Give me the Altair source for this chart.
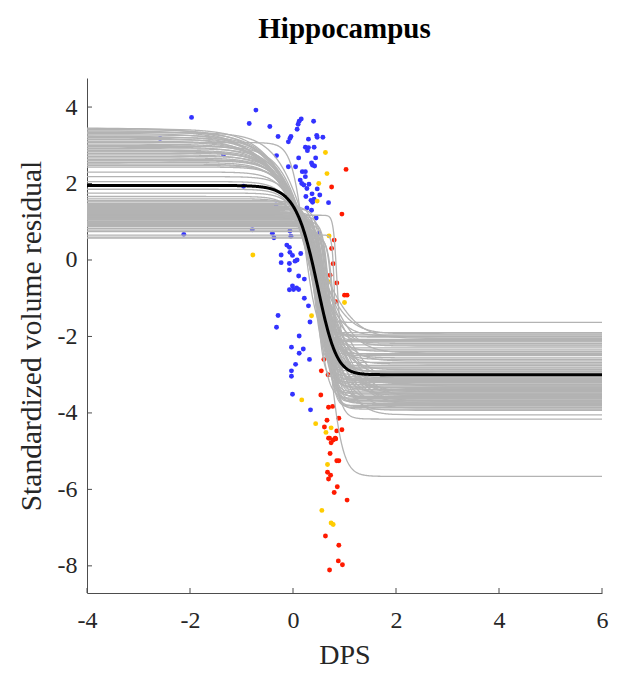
import numpy as np
import pandas as pd
import altair as alt

# Bootstrap fits, generalised logistic parameterised by its half-way point:
# y = right + (left - right) * (1 + (2**shape - 1) * exp(k * (x - mid))) ** (-1 / shape)
left_level = [
    3.45, 3.41, 3.38, 3.35, 3.31, 3.27, 3.23, 3.19, 3.15, 3.11,
    3.07, 3.03, 2.99, 2.95, 2.91, 2.87, 2.83, 2.79, 2.75, 2.71,
    2.67, 2.63, 2.59, 2.55, 2.51, 2.47, 2.43, 2.30, 2.18, 2.05,
    1.85, 1.75, 1.66, 1.60,
    3.43, 3.33, 3.21, 3.09, 2.97, 2.85, 2.61,
    1.55, 1.48, 1.42, 1.38, 1.35, 1.32, 1.29, 1.26, 1.23, 1.21,
    1.19, 1.17, 1.15, 1.13, 1.11, 1.09, 1.07, 1.05, 1.02, 0.99,
    0.96, 0.93, 0.90, 0.87, 0.82, 0.78, 0.74, 0.65, 0.60, 0.57,
    1.52, 1.45, 1.40, 1.34, 1.27, 1.24, 1.20, 1.14, 1.10, 1.06,
    1.00, 0.97, 0.94, 0.91, 0.88,
]
right_level = [
    -3.30, -2.05, -3.60, -2.43, -3.81, -1.93, -3.15, -3.69, -2.64, -3.42,
    -2.11, -3.87, -2.87, -3.24, -1.99, -3.54, -4.05, -2.72, -3.36, -2.18,
    -3.72, -3.09, -2.39, -3.48, -3.93, -2.92, -3.27, -2.60, -3.63, -2.02,
    -3.18, -3.78, -2.47, -3.39,
    -3.52, -2.25, -3.02, -3.74, -2.56, -3.44, -2.95,
    -3.06, -1.96, -3.51, -2.83, -3.66, -2.14, -3.21, -3.84, -2.68, -3.33,
    -5.66, -2.08, -3.57, -2.35, -3.75, -3.12, -4.16, -2.22, -3.45, -1.63,
    -3.90, -2.90, -3.30, -1.90, -3.60, -2.80, -3.15, -3.80, -2.50, -3.40,
    -3.62, -2.30, -3.20, -3.86, -2.12, -3.48, -2.76, -3.71, -3.00, -2.45,
    -3.56, -3.26, -2.00, -3.68, -3.10,
]
midpoint = [
    0.42, 0.30, 0.45, 0.36, 0.48, 0.28, 0.40, 0.44, 0.33, 0.41,
    0.22, 0.46, 0.35, 0.40, 0.30, 0.43, 0.50, 0.34, 0.41, 0.29,
    0.45, 0.37, 0.31, 0.42, 0.50, 0.36, 0.39, 0.34, 0.44, 0.30,
    0.40, 0.46, 0.36, 0.42,
    0.40, 0.32, 0.38, 0.47, 0.33, 0.44, 0.37,
    0.42, 0.45, 0.50, 0.40, 0.55, 0.48, 0.52, 0.58, 0.44, 0.60,
    0.69, 0.85, 0.62, 0.50, 0.66, 0.46, 0.70, 0.55, 0.64, 0.48,
    0.68, 0.58, 0.62, 0.52, 0.74, 0.66, 0.70, 0.82, 0.76, 0.80,
    0.47, 0.43, 0.56, 0.63, 0.41, 0.59, 0.51, 0.67, 0.54, 0.45,
    0.72, 0.61, 0.49, 0.71, 0.57,
]
steepness = [
    1.7, 2.0, 1.8, 2.2, 1.9, 2.4, 2.1, 2.0, 2.6, 2.3,
    8.0, 2.4, 2.8, 2.5, 3.0, 2.7, 2.6, 3.1, 2.8, 3.4,
    3.0, 3.3, 3.6, 3.2, 3.1, 3.8, 4.0, 4.0, 4.4, 4.6,
    5.0, 5.2, 5.5, 5.8,
    2.2, 2.9, 2.5, 2.2, 3.4, 2.6, 3.5,
    9, 10, 9, 11, 10, 12, 11, 10, 13, 12,
    7.7, 30, 12, 14, 11, 15, 10, 16, 13, 14,
    12, 15, 14, 16, 13, 18, 16, 40, 20, 18,
    10, 11, 12, 13, 9, 14, 12, 15, 11, 13,
    16, 12, 10, 17, 14,
]
shape = [
    0.45, 0.50, 0.45, 0.50, 0.45, 0.55, 0.50, 0.45, 0.55, 0.50,
    1.00, 0.50, 0.55, 0.50, 0.60, 0.50, 0.45, 0.60, 0.55, 0.65,
    0.55, 0.60, 0.65, 0.55, 0.50, 0.65, 0.70, 0.70, 0.70, 0.75,
    0.80, 0.80, 0.85, 0.85,
    0.50, 0.60, 0.55, 0.50, 0.65, 0.55, 0.65,
    1, 1, 1, 1, 1, 1, 1, 1, 1, 1,
    1, 1, 1, 1, 1, 1, 1, 1, 1, 1,
    1, 1, 1, 1, 1, 1, 1, 1, 1, 1,
    1, 1, 1, 1, 1, 1, 1, 1, 1, 1,
    1, 1, 1, 1, 1,
]

# Group-level (mean) fit
mean_left, mean_right, mean_mid, mean_k, mean_shape = 1.95, -3.0, 0.45, 4.4, 0.6

# Individual subjects
blue_x = [
    -1.97, -0.72, -0.85, -0.45, -0.29, 0.16, 0.12, 0.10, 0.08, 0.40,
    -0.04, -0.06, -0.09, 0.30, 0.46, 0.47, 0.58, 0.24, 0.30, 0.28,
    0.41, 0.44, -0.32, 0.11, 0.36, 0.38, 0.42, -0.09, 0.05, 0.18,
    0.24, 0.24, 0.14, 0.17, 0.21, 0.31, 0.27, 0.47, 0.37, 0.52,
    0.25, 0.35, 0.41, 0.38, 0.69, -0.96, -0.33, -0.79, -0.40, -0.37,
    -0.06, -0.04, -0.12, -0.07, -0.23, -0.06, -0.01, 0.15, -0.23, -0.07,
    0.04, 0.08, -0.07, 0.11, 0.22, -0.01, -0.07, 0.01, 0.07, 0.11,
    -0.29, -0.32, 0.12, -0.03, 0.20, 0.12, 0.05, -0.03, -0.03, -0.01,
    0.34, 0.33, 0.32, -2.12, -2.58, -1.35, 0.27, 0.36, 0.20, 0.45,
    0.50, 0.30, 0.22,
]
blue_y = [
    3.73, 3.92, 3.57, 3.49, 3.23, 3.69, 3.63, 3.55, 3.42, 3.63,
    3.23, 3.18, 3.09, 3.16, 3.26, 3.21, 3.21, 2.95, 2.94, 2.86,
    2.95, 2.67, 2.73, 2.67, 2.54, 2.48, 2.46, 2.44, 2.44, 2.31,
    2.31, 2.18, 2.09, 2.00, 1.96, 1.98, 1.87, 1.86, 1.73, 1.70,
    1.66, 1.56, 1.59, 1.51, 1.50, 1.93, 1.44, 0.79, 0.70, 0.58,
    0.76, 0.62, 0.39, 0.33, 0.13, 0.20, 0.12, 0.17, -0.07, -0.09,
    -0.03, 0.00, -0.26, -0.42, -0.50, -0.68, -0.78, -0.77, -0.73, -0.77,
    -1.45, -1.76, -1.99, -2.28, -2.33, -2.44, -2.73, -2.90, -3.04, -3.51,
    -3.92, -1.62, -2.60, 0.67, 3.18, 2.75, 1.36, 1.30, 0.90, 1.10,
    0.70, -1.20, -1.00,
]
yellow_x = [0.63, 0.66, 0.50, 0.47, -0.78, 0.36, 0.17, 0.44, 0.74, 0.64,
            0.67, 0.56, 0.74, 0.78, 1.00, 0.69, 0.70, 0.55]
yellow_y = [2.81, 2.26, 2.00, 1.54, 0.13, -1.46, -3.66, -4.28, -4.39, -4.51,
            -5.35, -6.55, -6.88, -6.92, -1.11, -0.57, 0.63, -0.30]
red_x = [
    1.03, 0.75, 0.95, 0.80, 1.00, 1.05, 0.83, 0.54, 0.69, 0.77,
    0.89, 0.66, 0.61, 0.85, 0.95, 0.69, 0.82, 0.71, 0.78, 0.74,
    0.83, 0.72, 0.85, 0.89, 0.67, 0.73, 0.69, 0.86, 0.80, 1.05,
    0.63, 0.89, 0.88, 0.96, 0.71, 0.75, 0.72, 0.85, 0.60, 0.68,
    0.55, 0.62, 0.78,
]
red_y = [
    2.37, 1.91, 1.20, 0.52, -0.92, -0.92, -1.09, -3.53, -3.85, -3.83,
    -4.14, -4.19, -4.37, -4.47, -4.44, -4.66, -4.66, -4.66, -4.71, -4.78,
    -4.68, -5.06, -5.25, -5.25, -5.55, -5.63, -5.73, -5.93, -6.08, -6.28,
    -7.22, -7.46, -7.87, -7.97, -8.11, 0.30, -0.40, -0.60, -2.60, -3.00,
    -2.90, -1.70, -0.10,
]

x_ticks = [-4, -2, 0, 2, 4, 6]
y_ticks = [-8, -6, -4, -2, 0, 2, 4]
x_domain = [-4, 6]
y_domain = [-8.71, 4.76]

W, H = 515, 515
SERIF = "Liberation Serif"
INK = "#262626"
AXIS_GREY = "#4d4d4d"


def gen_logistic(x, a, b, m, k, nu):
    q = 2.0 ** nu - 1.0
    return b + (a - b) * (1.0 + q * np.exp(k * (x - m))) ** (-1.0 / nu)


grid = np.unique(np.concatenate([
    np.linspace(-4, -2, 11), np.linspace(-2, 2, 401), np.linspace(2, 6, 21)
]))

rows = []
params = zip(left_level, right_level, midpoint, steepness, shape)
for i, (a, b, m, k, nu) in enumerate(params):
    for xv, yv in zip(grid, gen_logistic(grid, a, b, m, k, nu)):
        rows.append((i, round(float(xv), 4), round(float(yv), 4)))
curves = pd.DataFrame(rows, columns=["curve", "dps", "resid"])
mean_curve = pd.DataFrame({
    "dps": grid,
    "resid": gen_logistic(grid, mean_left, mean_right, mean_mid, mean_k, mean_shape),
})

points = pd.concat([
    pd.DataFrame({"dps": blue_x, "resid": blue_y, "grp": "blue"}),
    pd.DataFrame({"dps": yellow_x, "resid": yellow_y, "grp": "yellow"}),
    pd.DataFrame({"dps": red_x, "resid": red_y, "grp": "red"}),
], ignore_index=True)

x_scale = alt.Scale(domain=x_domain, nice=False, zero=False)
y_scale = alt.Scale(domain=y_domain, nice=False, zero=False)

plain_minus = "'' + datum.value"

x_axis = alt.Axis(
    values=x_ticks, title="DPS", grid=False, ticks=False, tickSize=0,
    labelExpr=plain_minus,
    labelFont=SERIF, labelFontSize=24, labelColor=INK, labelPadding=34,
    labelBaseline="alphabetic", labelFlush=False, labelOverlap=False,
    domainColor=AXIS_GREY, domainWidth=1,
    titleFont=SERIF, titleFontSize=28, titleFontWeight="normal", titleColor=INK,
    titleY=70, titleBaseline="alphabetic",
)
y_axis = alt.Axis(
    values=y_ticks, title="Standardized volume residual", grid=False,
    ticks=False, tickSize=0, labelExpr=plain_minus,
    labelFont=SERIF, labelFontSize=24, labelColor=INK, labelPadding=10,
    labelFlush=False, labelOverlap=False,
    domainColor=AXIS_GREY, domainWidth=1,
    titleFont=SERIF, titleFontSize=29.5, titleFontWeight="normal", titleColor=INK,
    titleX=-47, titleBaseline="alphabetic",
)

X = alt.X("dps:Q", scale=x_scale, axis=x_axis)
Y = alt.Y("resid:Q", scale=y_scale, axis=y_axis)

dots = alt.Chart(points).mark_circle(size=24, opacity=1).encode(
    x=X, y=Y,
    color=alt.Color("grp:N", legend=None, scale=alt.Scale(
        domain=["blue", "yellow", "red"],
        range=["#3333ff", "#ffcc00", "#ff1a00"])),
)

fits = alt.Chart(curves).mark_line(color="#b3b3b3", strokeWidth=1.3).encode(
    x="dps:Q", y="resid:Q", detail="curve:N"
)

mean_fit = alt.Chart(mean_curve).mark_line(color="black", strokeWidth=3).encode(
    x="dps:Q", y="resid:Q"
)

# inward tick marks
x_tick_marks = alt.Chart(pd.DataFrame({"dps": x_ticks})).mark_rule(
    color=AXIS_GREY, strokeWidth=1
).encode(x="dps:Q", y=alt.value(H), y2=alt.value(H - 5))
y_tick_marks = alt.Chart(pd.DataFrame({"resid": y_ticks})).mark_rule(
    color=AXIS_GREY, strokeWidth=1
).encode(y="resid:Q", x=alt.value(0), x2=alt.value(5))

chart = alt.layer(
    dots, fits, mean_fit, x_tick_marks, y_tick_marks
).properties(
    width=W, height=H,
    title=alt.TitleParams(
        "Hippocampus", font=SERIF, fontSize=29, fontWeight="bold",
        color="black", anchor="middle", baseline="alphabetic", offset=11,
    ),
    padding={"left": 87, "top": 78, "right": 17, "bottom": 82},
    autosize=alt.AutoSizeParams(type="none"),
).configure(background="white").configure_view(stroke=None)

chart.save("out.html", embed_options={"renderer": "svg", "actions": False})
